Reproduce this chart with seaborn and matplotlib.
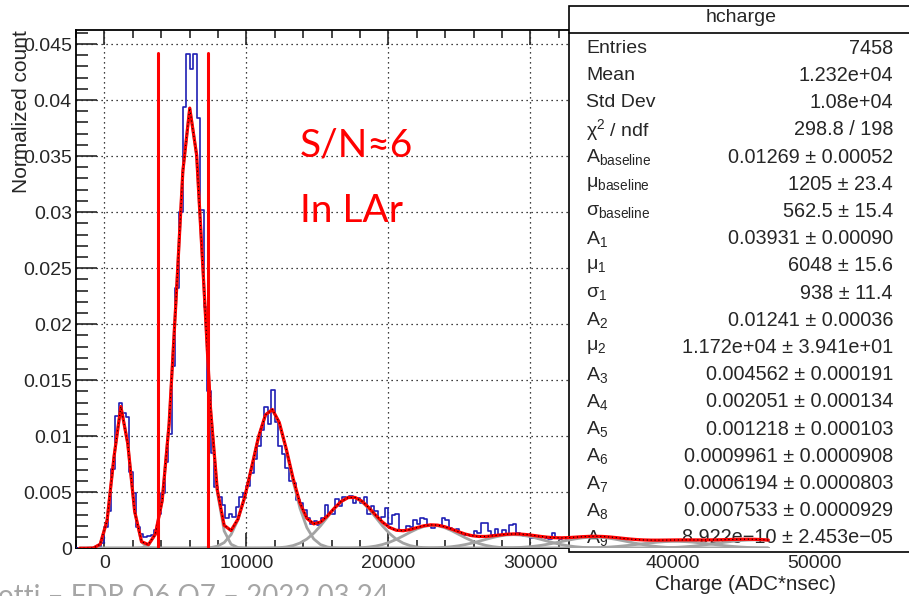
import matplotlib as mpl

mpl.use('Agg')
import matplotlib.pyplot as plt
from matplotlib.patches import Rectangle
from matplotlib.lines import Line2D
from matplotlib.ticker import MultipleLocator, FuncFormatter
import numpy as np
import pandas as pd
import seaborn as sns

sns.set_style('white')
plt.rcParams['font.family'] = ['Liberation Sans', 'DejaVu Sans']
plt.rcParams['mathtext.fontset'] = 'custom'
plt.rcParams['mathtext.rm'] = 'Liberation Sans'
plt.rcParams['mathtext.it'] = 'Liberation Sans:italic'
plt.rcParams['mathtext.bf'] = 'Liberation Sans:bold'

#### data ####
# hcharge histogram, 250 ADC*nsec bins starting at -2000
bin_start = -2000
bin_width = 250
counts = [
    0, 0, 0, 0,
    0, 0, 0.0001, 0.0005,
    0.0019, 0.0033, 0.0071, 0.0118,
    0.0130, 0.0121, 0.0117, 0.0068,
    0.0049, 0.0019, 0.0013, 0.0010,
    0.0011, 0.0012, 0.0016, 0.0031,
    0.0049, 0.0077, 0.0102, 0.0163,
    0.0232, 0.0300, 0.0394, 0.0441,
    0.0428, 0.0441, 0.0384, 0.0302,
    0.0215, 0.0140, 0.0085, 0.0055,
    0.0046, 0.0039, 0.0027, 0.0031,
    0.0028, 0.0037, 0.0046, 0.0049,
    0.0056, 0.0067, 0.0080, 0.0091,
    0.0106, 0.0126, 0.0111, 0.0141,
    0.0113, 0.0091, 0.0084, 0.0072,
    0.0060, 0.0058, 0.0043, 0.0040,
    0.0034, 0.0027, 0.0022, 0.0024,
    0.0021, 0.0027, 0.0039, 0.0031,
    0.0031, 0.0044, 0.0038, 0.0046,
    0.0045, 0.0047, 0.0040, 0.0045,
    0.0040, 0.0046, 0.0031, 0.0038,
    0.0033, 0.0025, 0.0028, 0.0036,
    0.0022, 0.0030, 0.0031, 0.0015,
    0.0016, 0.0020, 0.0019, 0.0025,
    0.0022, 0.0027, 0.0026, 0.0020,
    0.0018, 0.0021, 0.0020, 0.0027,
    0.0025, 0.0018, 0.0016, 0.0017,
    0.0013, 0.0012, 0.0012, 0.0011,
    0.0015, 0.0014, 0.0023, 0.0023,
    0.0015, 0.0012, 0.0017, 0.0011,
    0.0016, 0.0013, 0.0021, 0.0022,
    0.0014, 0.0013, 0.0011, 0.0012,
    0.0009, 0.0010, 0.0008, 0.0010,
    0.0009, 0.0008, 0.0014, 0.0009,
    0.0008, 0.0009,
    # below the stats box
    0.0008, 0.0010, 0.0007, 0.0009, 0.0011, 0.0008, 0.0010,
    0.0009, 0.0007, 0.0010, 0.0008, 0.0009, 0.0007, 0.0008,
    0.0006, 0.0008, 0.0007, 0.0005, 0.0007, 0.0006, 0.0008, 0.0005,
    0.0006, 0.0007, 0.0005, 0.0006, 0.0007, 0.0006, 0.0005, 0.0007,
    0.0006, 0.0005, 0.0007, 0.0006, 0.0005, 0.0006, 0.0007, 0.0005,
    0.0006, 0.0008, 0.0006, 0.0007, 0.0005, 0.0007, 0.0008, 0.0006,
    0.0007, 0.0008, 0.0006, 0.0007, 0.0008, 0.0007, 0.0006, 0.0008,
    0.0007, 0.0006, 0.0007, 0.0005, 0.0006, 0.0005, 0.0006, 0.0004,
    0.0004, 0.0005, 0.0003, 0.0004, 0.0003, 0.0004, 0.0002, 0.0003,
    0.0002, 0.0003, 0.0002, 0.0002, 0.0001, 0.0002, 0.0001, 0.0001,
]

# fit components: baseline + photo-electron peaks (amplitudes from stats box)
comp_amp = [0.01269, 0.03931, 0.01241, 0.004562, 0.002051,
            0.001218, 0.0009961, 0.0006194, 0.0007533, 8.922e-10]
comp_mean = [1205, 6048, 11720, 17400, 23100, 28800, 34500, 40200, 45900, 51600]
comp_sigma = [562.5, 938, 1300, 1700, 1850, 2100, 2300, 2500, 2700, 2900]
fit_range = (-1750, 46750)

# integration window (red vertical lines)
window = [3750, 7280]
window_top = 0.0442

stats_title = 'hcharge'
stats_labels = ['Entries', 'Mean', 'Std Dev', r'χ$^{2}$ / ndf',
                r'A$_{\mathrm{baseline}}$', r'μ$_{\mathrm{baseline}}$', r'σ$_{\mathrm{baseline}}$',
                r'A$_{1}$', r'μ$_{1}$', r'σ$_{1}$', r'A$_{2}$', r'μ$_{2}$',
                r'A$_{3}$', r'A$_{4}$', r'A$_{5}$', r'A$_{6}$', r'A$_{7}$', r'A$_{8}$', r'A$_{9}$']
stats_values = ['7458', '1.232e+04', '1.08e+04', '298.8 / 198',
                '0.01269 ± 0.00052', '1205 ± 23.4', '562.5 ± 15.4',
                '0.03931 ± 0.00090', '6048 ± 15.6', '938 ± 11.4',
                '0.01241 ± 0.00036', '1.172e+04 ± 3.941e+01',
                '0.004562 ± 0.000191', '0.002051 ± 0.000134', '0.001218 ± 0.000103',
                '0.0009961 ± 0.0000908', '0.0006194 ± 0.0000803',
                '0.0007533 ± 0.0000929', '8.922e−10 ± 2.453e−05']

########################

W, H = 909, 596
figure = plt.figure(figsize=(W / 100, H / 100), dpi=100)


def fx(px):
    return px / W


def fy(py):
    return 1 - py / H


axis = figure.add_axes([fx(76), fy(548.3), fx(76 + 54 * 14.2) - fx(76), fy(30) - fy(548.3)])

n_bins = len(counts)
df = pd.DataFrame({'charge': bin_start + bin_width * (np.arange(n_bins) + 0.5),
                   'count': counts})
sns.histplot(data=df, x='charge', weights='count', binwidth=bin_width,
             binrange=(bin_start, bin_start + bin_width * n_bins), element='step',
             fill=False, color='#1f1fb4', linewidth=1.2, ax=axis, zorder=1.2)

# fit curves (ROOT style, 100 points)
xs = np.linspace(fit_range[0], fit_range[1], 101)
comps = [a * np.exp(-0.5 * ((xs - m) / s) ** 2)
         for a, m, s in zip(comp_amp, comp_mean, comp_sigma)]
for c in comps:
    sns.lineplot(x=xs, y=c, color='#a3a3a3', linewidth=2.0, ax=axis,
                 sort=False, estimator=None, zorder=2.5)
total = np.sum(comps, axis=0)
sns.lineplot(x=xs, y=total, color='red', linewidth=2.3, ax=axis,
             sort=False, estimator=None, zorder=3)
axis.plot(xs, total, color='black', linewidth=0.8, linestyle=(0, (1, 2.5)), zorder=3.1)

for xv in window:
    axis.plot([xv, xv], [0, window_top], color='red', linewidth=2.2, zorder=3.2)

axis.set_xlim(-2000, 52000)
axis.set_ylim(0, 0.04625)
axis.set_xlabel('')
axis.set_ylabel('')

# ROOT-like axes
axis.set_axisbelow(True)
axis.grid(True, color='black', linestyle=(0, (1, 3)), linewidth=0.9)
axis.xaxis.set_major_locator(MultipleLocator(10000))
axis.xaxis.set_minor_locator(MultipleLocator(2000))
axis.yaxis.set_major_locator(MultipleLocator(0.005))
axis.yaxis.set_minor_locator(MultipleLocator(0.001))
axis.xaxis.set_major_formatter(FuncFormatter(lambda v, p: '%g' % v))
axis.yaxis.set_major_formatter(FuncFormatter(lambda v, p: '%g' % round(v, 4)))
axis.tick_params(axis='x', which='both', direction='in', top=True, bottom=True,
                 labelsize=14, pad=5, width=1.2)
axis.tick_params(axis='x', which='major', length=11)
axis.tick_params(axis='x', which='minor', length=5.5)
axis.tick_params(axis='y', which='both', direction='in', left=True, right=False,
                 labelsize=14, pad=3, width=1.2)
axis.tick_params(axis='y', which='major', length=15)
axis.tick_params(axis='y', which='minor', length=8.5)
for sp in axis.spines.values():
    sp.set_linewidth(1.3)
    sp.set_color('black')
    sp.set_zorder(1.0)

# stats box
box = Rectangle((fx(569), fy(552)), fx(930) - fx(569), fy(6) - fy(552),
                transform=figure.transFigure, facecolor='white', edgecolor='black',
                linewidth=1.2, zorder=1.5, clip_on=False)
axis.add_patch(box)
axis.add_line(Line2D([fx(569), fx(930)], [fy(32.5), fy(32.5)], transform=figure.transFigure,
                     color='black', linewidth=1.2, zorder=1.6, clip_on=False))
axis.text(fx(741), fy(18), stats_title, transform=figure.transFigure, ha='center',
          va='center', fontsize=14, zorder=1.6)
for i, (lab, val) in enumerate(zip(stats_labels, stats_values)):
    y = fy(48.3 + i * 27.2)
    axis.text(fx(586), y, lab, transform=figure.transFigure, ha='left', va='center',
              fontsize=14, zorder=1.6)
    axis.text(fx(893), y, val, transform=figure.transFigure, ha='right', va='center',
              fontsize=14.3, zorder=1.6)

# axis titles
figure.text(fx(22), fy(30), 'Normalized count', rotation=90, ha='center', va='top',
            fontsize=15)
figure.text(fx(836), fy(584), 'Charge (ADC*nsec)', ha='right', va='center', fontsize=14.8)

# slide annotations
figure.text(fx(300), fy(146), 'S/N≈6', color='red', fontsize=28, ha='left', va='center',
            family=['Lato', 'DejaVu Sans'])
figure.text(fx(300), fy(211), 'In LAr', color='red', fontsize=28, ha='left', va='center',
            family=['Lato', 'DejaVu Sans'])
figure.text(fx(-2), fy(584), 'otti – FDR Q6 Q7 – 2022 03 24', color='#a6a6a6', fontsize=20,
            ha='left', va='top', family=['Lato', 'DejaVu Sans'])

plt.savefig('out.png', dpi=100)
